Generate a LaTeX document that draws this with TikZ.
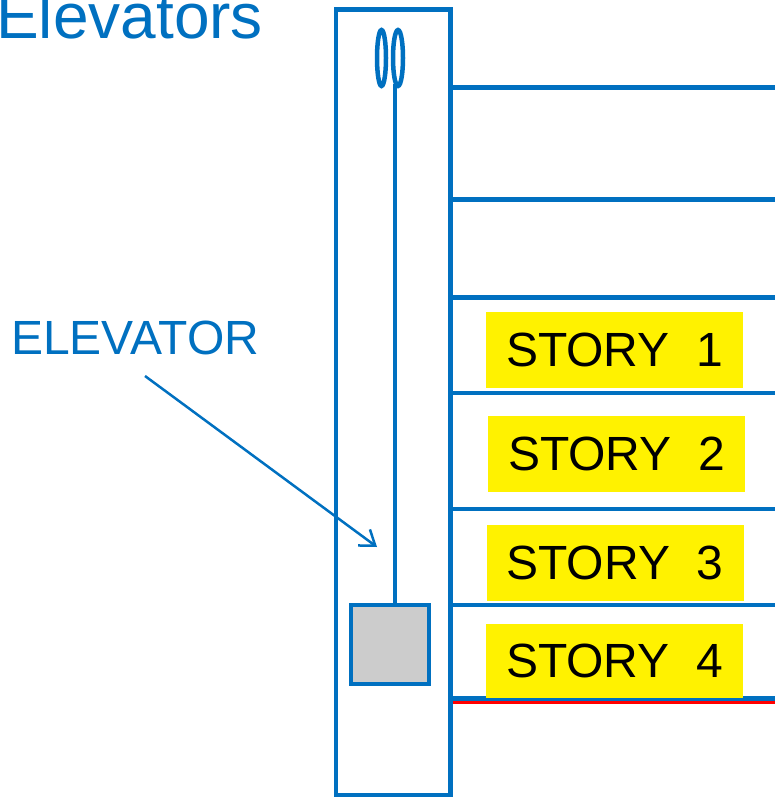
\documentclass[tikz,border=0pt]{standalone}
\usepackage{fontspec}
\setmainfont{Liberation Sans}
\usetikzlibrary{arrows.meta, positioning}
\definecolor{shaftblue}{RGB}{0,112,192}
\definecolor{cargray}{RGB}{204,204,204}

\begin{document}
\begin{tikzpicture}[x=1pt, y=-1pt,
        wall/.style={draw=shaftblue, line width=4.5pt},
        storybox/.style={fill=yellow, inner sep=0pt, minimum width=257pt,
            minimum height=76pt, font=\fontsize{48}{48}\selectfont}]
    \useasboundingbox (0,0) rectangle (775,797);
    % labels
    \node[anchor=base west, inner sep=0pt, text=shaftblue,
        font=\fontsize{64}{64}\selectfont] (title) at (-4,39) {Elevators};
    \node[anchor=base west, inner sep=0pt, text=shaftblue,
        font=\fontsize{48}{48}\selectfont] (label) at (11,354) {ELEVATOR};
    % shaft and floors
    \draw[wall] (336,9.5) rectangle (450.5,795);
    \foreach \y in {87.5, 199.5, 297.5, 393, 509, 605, 698.5}
        \draw[wall] (450.5,\y) -- (780,\y);
    \draw[red, line width=3pt] (452.5,702.5) -- (780,702.5);
    % stories
    \node[storybox] (s1) at (614.5,350) {STORY\ \ 1};
    \node[storybox] (s2) at (616.5,454) {STORY\ \ 2};
    \node[storybox] (s3) at (615,563) {STORY\ \ 3};
    \node[storybox, minimum height=74pt] (s4) at (614.5,661) {STORY\ \ 4};
    % pulley, rope and car
    \draw[wall] (381.5,58) ellipse [x radius=4.5, y radius=28];
    \draw[wall] (398,58) ellipse [x radius=5, y radius=28];
    \node[wall, fill=cargray, inner sep=0pt, minimum width=78pt,
        minimum height=79pt] (car) at (390,644.5) {};
    \coordinate (ropetop) at (395,84);
    \draw[wall] (ropetop) -- (ropetop |- car.north);
    % pointer
    \coordinate (tail) at (145,376);
    \coordinate (tip) at (377,547);
    \draw[shaftblue, line width=2.5pt, -{Straight Barb[length=14pt, width=20pt]}]
        (tail) -- (tip);
\end{tikzpicture}
\end{document}
